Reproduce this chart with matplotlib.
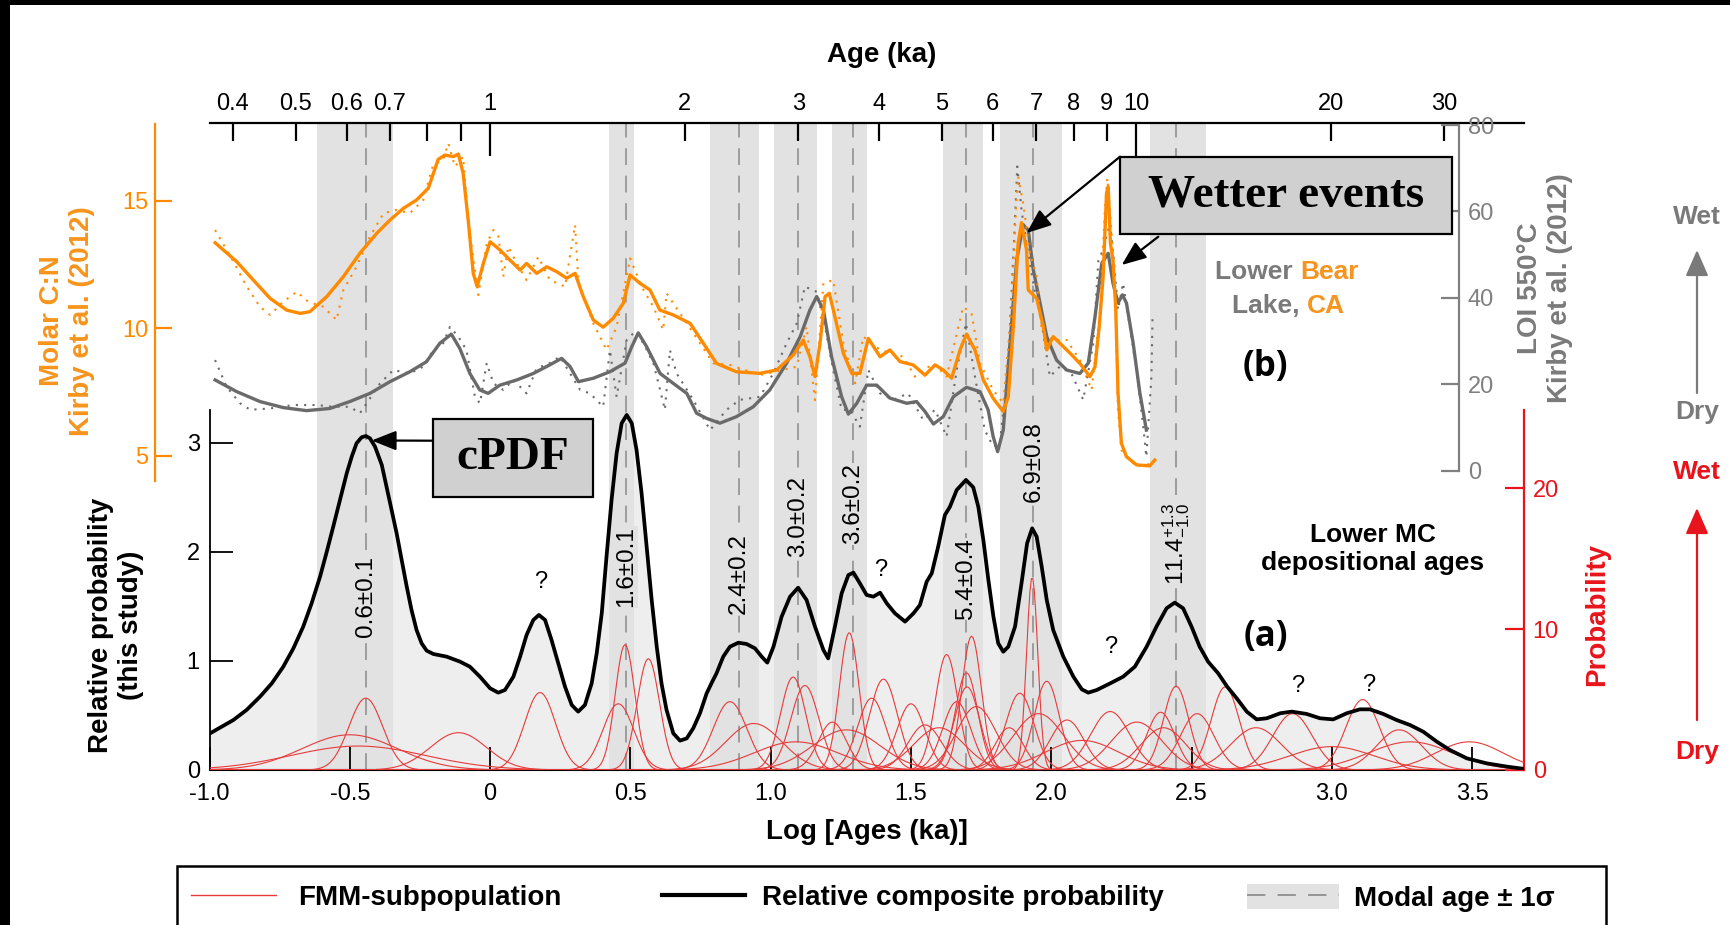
import numpy as np
import matplotlib
matplotlib.use('Agg')
import matplotlib.pyplot as plt
from matplotlib.patches import Rectangle, Patch, FancyArrowPatch
from matplotlib.lines import Line2D

# ---------------- data (x in ln of age in ka) ----------------
cpdf_x = [-0.998, -0.915, -0.868, -0.82, -0.778, -0.737, -0.701, -0.666, -0.636, -0.606, -0.582, -0.559,
          -0.535, -0.511, -0.493, -0.476, -0.458, -0.443, -0.428, -0.41, -0.386, -0.369, -0.351, -0.333,
          -0.315, -0.297, -0.28, -0.262, -0.244, -0.226, -0.202, -0.155, -0.107, -0.072, -0.036, 0.0,
          0.029, 0.053, 0.083, 0.107, 0.13, 0.154, 0.174, 0.196, 0.219, 0.243, 0.267, 0.291, 0.314,
          0.338, 0.362, 0.38, 0.398, 0.415, 0.433, 0.451, 0.469, 0.487, 0.505, 0.522, 0.54, 0.558,
          0.576, 0.594, 0.611, 0.629, 0.653, 0.677, 0.701, 0.724, 0.748, 0.772, 0.79, 0.807, 0.831,
          0.855, 0.885, 0.914, 0.944, 0.968, 0.988, 1.01, 1.039, 1.069, 1.098, 1.128, 1.158, 1.188,
          1.205, 1.229, 1.253, 1.277, 1.295, 1.318, 1.342, 1.366, 1.39, 1.414, 1.443, 1.479, 1.509,
          1.532, 1.556, 1.574, 1.597, 1.621, 1.639, 1.663, 1.696, 1.722, 1.74, 1.758, 1.776, 1.794,
          1.811, 1.829, 1.847, 1.871, 1.894, 1.914, 1.932, 1.948, 1.966, 1.984, 2.007, 2.043, 2.079,
          2.109, 2.132, 2.162, 2.21, 2.256, 2.298, 2.34, 2.375, 2.411, 2.44, 2.47, 2.5, 2.529, 2.559,
          2.595, 2.627, 2.661, 2.697, 2.732, 2.768, 2.816, 2.857, 2.91, 2.958, 3.005, 3.053, 3.1,
          3.136, 3.183, 3.231, 3.279, 3.326, 3.374, 3.421, 3.481, 3.552, 3.624, 3.686]
cpdf_y = [0.336, 0.458, 0.55, 0.672, 0.794, 0.947, 1.115, 1.314, 1.528, 1.772, 2.001, 2.23,
          2.475, 2.719, 2.872, 2.994, 3.049, 3.061, 3.04, 2.963, 2.796, 2.597, 2.383, 2.169,
          1.925, 1.68, 1.467, 1.283, 1.161, 1.094, 1.063, 1.039, 0.993, 0.947, 0.855, 0.749,
          0.709, 0.733, 0.855, 1.039, 1.237, 1.375, 1.421, 1.375, 1.192, 0.978, 0.764, 0.596, 0.535,
          0.596, 0.794, 1.069, 1.436, 1.955, 2.475, 2.903, 3.178, 3.254, 3.178, 2.933, 2.536, 2.047,
          1.558, 1.13, 0.794, 0.55, 0.336, 0.269, 0.29, 0.382, 0.52, 0.703, 0.8, 0.886, 1.039,
          1.13, 1.167, 1.155, 1.115, 1.039, 0.984, 1.13, 1.405, 1.588, 1.671, 1.558, 1.314, 1.1,
          1.023, 1.314, 1.619, 1.787, 1.809, 1.711, 1.604, 1.589, 1.625, 1.527, 1.436, 1.36, 1.436,
          1.512, 1.726, 1.802, 2.047, 2.337, 2.413, 2.566, 2.658, 2.591, 2.413, 2.108, 1.741, 1.405,
          1.161, 1.084, 1.13, 1.314, 1.711, 2.078, 2.215, 2.139, 1.864, 1.558, 1.283, 1.039, 0.855,
          0.739, 0.709, 0.733, 0.794, 0.855, 0.947, 1.13, 1.314, 1.482, 1.534, 1.482, 1.314, 1.13, 0.993,
          0.886, 0.764, 0.657, 0.535, 0.464, 0.474, 0.52, 0.535, 0.514, 0.474, 0.464, 0.52, 0.556,
          0.556, 0.514, 0.458, 0.412, 0.351, 0.26, 0.183, 0.107, 0.061, 0.031, 0.01]

# FMM subpopulations: centre, peak probability, sigma
fmm_mu = [-0.443, -0.50, -0.47, -0.113, 0.178, 0.457, 0.481, 0.564, 0.855, 0.94, 1.08, 1.122,
          1.09, 1.22, 1.27, 1.28, 1.36, 1.402, 1.50, 1.55, 1.60, 1.627, 1.663, 1.698, 1.70, 1.716,
          1.733, 1.85, 1.888, 1.932, 1.955, 1.984, 2.056, 2.11, 2.21, 2.305, 2.39, 2.40, 2.445,
          2.52, 2.62, 2.73, 2.86, 3.0, 3.11, 3.24, 3.28, 3.49]
fmm_h = [5.1, 2.5, 1.7, 2.65, 5.5, 4.7, 8.9, 7.9, 4.85, 3.3, 6.6, 6.0,
         2.0, 3.4, 2.85, 9.75, 5.1, 6.45, 4.7, 3.2, 3.0, 8.2, 4.85, 6.9, 5.9, 9.5,
         4.5, 3.0, 5.45, 13.7, 4.0, 6.3, 3.55, 2.1, 4.15, 3.4, 4.1, 3.0, 5.95,
         4.0, 5.9, 3.0, 4.0, 1.66, 5.0, 2.85, 2.0, 2.0]
fmm_sd = [0.06, 0.17, 0.24, 0.10, 0.055, 0.055, 0.035, 0.04, 0.06, 0.10, 0.045, 0.05,
          0.15, 0.05, 0.12, 0.035, 0.05, 0.05, 0.05, 0.06, 0.09, 0.04, 0.05, 0.04, 0.045, 0.035,
          0.07, 0.05, 0.05, 0.02, 0.09, 0.045, 0.06, 0.13, 0.07, 0.09, 0.05, 0.08, 0.045,
          0.06, 0.05, 0.09, 0.07, 0.15, 0.06, 0.08, 0.15, 0.12]

modal_x = [-0.443, 0.484, 0.887, 1.098, 1.292, 1.696, 1.936, 2.444]
modal_lab = ['0.6±0.1', '1.6±0.1', '2.4±0.2', '3.0±0.2', '3.6±0.2', '5.4±0.4', '6.9±0.8',
             r'$\mathregular{11.4^{+1.3}_{-1.0}}$']
modal_lab_y = [1.59, 1.86, 1.80, 2.32, 2.44, 1.75, 2.83, 2.07]
band_lo = [-0.618, 0.425, 0.784, 1.013, 1.217, 1.613, 1.817, 2.352]
band_hi = [-0.347, 0.514, 0.959, 1.164, 1.342, 1.758, 2.037, 2.551]
q_x = [0.18, 1.393, 2.21, 2.877, 3.133]
q_y = [1.72, 1.83, 1.13, 0.77, 0.78]

# Lower Bear Lake (Kirby et al. 2012)
cn_x = [-0.98, -0.903, -0.844, -0.784, -0.725, -0.677, -0.642, -0.582, -0.523, -0.464, -0.404, -0.357,
        -0.309, -0.262, -0.22, -0.185, -0.161, -0.131, -0.113, -0.096, -0.078, -0.06, -0.046, -0.024,
        0.0, 0.035, 0.071, 0.107, 0.13, 0.166, 0.202, 0.237, 0.273, 0.303, 0.332, 0.368, 0.403, 0.439,
        0.475, 0.499, 0.534, 0.57, 0.605, 0.653, 0.713, 0.76, 0.807, 0.878, 0.962, 1.021, 1.081, 1.116,
        1.14, 1.158, 1.176, 1.194, 1.209, 1.229, 1.259, 1.289, 1.318, 1.348, 1.39, 1.425, 1.461, 1.508,
        1.55, 1.586, 1.615, 1.645, 1.675, 1.698, 1.728, 1.758, 1.793, 1.829, 1.847, 1.865, 1.882, 1.894,
        1.912, 1.918, 1.948, 1.972, 1.984, 2.007, 2.031, 2.067, 2.102, 2.138, 2.156, 2.171, 2.185, 2.197,
        2.203, 2.211, 2.22, 2.23, 2.238, 2.25, 2.268, 2.304, 2.351, 2.369]
cn_y = [13.35, 12.61, 11.89, 11.17, 10.71, 10.58, 10.65, 11.24, 12.02, 12.94, 13.72, 14.24,
        14.70, 15.03, 15.49, 16.62, 16.79, 16.73, 16.83, 16.07, 14.24, 12.15, 11.63, 12.54,
        13.39, 13.07, 12.67, 12.28, 12.54, 12.15, 12.41, 12.22, 11.96, 12.15, 11.24, 10.32, 10.04, 10.39,
        10.98, 12.09, 11.76, 11.5, 10.71, 10.52, 10.19, 9.41, 8.62, 8.29, 8.23, 8.36, 8.95, 9.54,
        8.88, 8.10, 9.41, 11.24, 11.37, 10.45, 9.02, 8.23, 8.23, 9.60, 8.88, 9.15, 8.69, 8.56,
        8.16, 8.56, 8.36, 8.04, 9.15, 9.77, 9.15, 7.97, 7.25, 6.73, 7.31, 10.06, 13.33, 14.14,
        13.07, 11.5, 11.17, 10.06, 9.15, 9.67, 9.41, 9.02, 8.62, 8.10, 8.49, 10.06, 12.02, 15.29,
        15.55, 13.33, 12.67, 10.71, 7.45, 5.49, 4.96, 4.64, 4.60, 4.83]
cn_raw_x = [-0.98, -0.915, -0.867, -0.82, -0.784, -0.737, -0.689, -0.648, -0.594, -0.547, -0.523, -0.476,
            -0.428, -0.38, -0.333, -0.286, -0.238, -0.203, -0.167, -0.149, -0.125, -0.096, -0.078, -0.042,
            -0.012, 0.012, 0.03, 0.047, 0.065, 0.095, 0.13, 0.172, 0.213, 0.267, 0.303, 0.315, 0.368, 0.415,
            0.451, 0.499, 0.54, 0.582, 0.617, 0.629, 0.701, 0.796, 0.855, 0.962, 1.093, 1.128, 1.158, 1.188,
            1.223, 1.259, 1.301, 1.33, 1.39, 1.473, 1.514, 1.58, 1.627, 1.686, 1.716, 1.746, 1.793, 1.829,
            1.858, 1.874, 1.882, 1.9, 1.924, 1.948, 1.966, 2.001, 2.055, 2.102, 2.144, 2.174, 2.191, 2.2,
            2.215, 2.227, 2.238, 2.25, 2.304, 2.363]
cn_raw_y = [13.85, 12.61, 11.63, 10.84, 10.52, 11.04, 11.43, 11.04, 10.84, 10.32, 11.5, 12.41,
            13.59, 14.51, 14.64, 14.51, 15.03, 16.40, 16.60, 17.25, 16.34, 16.73, 14.24, 11.3,
            13.33, 13.85, 13.59, 12.02, 13.2, 12.54, 11.89, 12.8, 11.89, 11.63, 14.05, 11.76, 10.19, 9.15,
            10.06, 12.74, 11.63, 10.84, 9.93, 11.37, 10.19, 8.62, 8.56, 8.16, 8.49, 10.06, 7.18, 11.76,
            11.89, 9.41, 7.84, 9.67, 9.15, 8.88, 8.1, 8.62, 8.1, 10.84, 10.58, 8.62, 7.58, 7.05,
            10.71, 14.64, 15.95, 14.9, 12.94, 12.02, 9.93, 9.54, 9.54, 8.75, 7.58, 10.71, 14.64, 15.88,
            13.72, 11.76, 6.79, 5.22, 4.57, 4.70]
loi_x = [-0.98, -0.903, -0.82, -0.737, -0.654, -0.571, -0.5, -0.428, -0.357, -0.286, -0.227, -0.179,
         -0.138, -0.108, -0.072, -0.037, -0.007, 0.035, 0.095, 0.154, 0.213, 0.255, 0.285, 0.315,
         0.368, 0.427, 0.481, 0.505, 0.528, 0.558, 0.606, 0.653, 0.701, 0.736, 0.772, 0.819, 0.878,
         0.938, 0.997, 1.057, 1.105, 1.14, 1.164, 1.188, 1.217, 1.253, 1.277, 1.307, 1.342, 1.378,
         1.425, 1.485, 1.52, 1.55, 1.58, 1.615, 1.651, 1.698, 1.746, 1.775, 1.793, 1.809, 1.829, 1.853,
         1.877, 1.9, 1.918, 1.936, 1.96, 1.984, 2.019, 2.055, 2.102, 2.132, 2.156, 2.18, 2.203, 2.22,
         2.238, 2.254, 2.268, 2.292, 2.316, 2.333, 2.339]
loi_y = [21.0, 18.3, 16.0, 14.6, 13.9, 14.4, 16.0, 17.9, 20.6, 22.9, 25.2, 29.5,
         31.6, 28.3, 22.5, 18.7, 17.9, 19.8, 21.0, 22.5, 24.5, 26.0, 24.1, 20.6,
         21.4, 22.9, 24.9, 28.7, 31.9, 28.7, 22.5, 20.2, 17.9, 13.3, 12.1, 11.0, 12.5,
         14.8, 18.7, 24.9, 31.0, 37.2, 40.3, 37.2, 26.4, 17.1, 13.1, 15.6, 19.8, 19.8,
         16.8, 15.6, 16.0, 13.7, 10.8, 12.5, 17.1, 19.3, 18.3, 14.1, 7.9, 4.4, 9.4, 29.5,
         48.8, 56.9, 55.7, 46.5, 38.8, 31.0, 25.6, 23.3, 22.5, 24.9, 35.6, 48.0, 50.3, 43.4,
         38.8, 40.7, 38.8, 29.5, 17.9, 11.7, 9.4]
loi_raw_x = [-0.98, -0.939, -0.891, -0.855, -0.784, -0.701, -0.618, -0.559, -0.5, -0.464, -0.44, -0.392,
             -0.345, -0.286, -0.238, -0.203, -0.167, -0.143, -0.113, -0.084, -0.054, -0.036, -0.012, 0.012,
             0.047, 0.083, 0.13, 0.166, 0.213, 0.249, 0.285, 0.321, 0.356, 0.403, 0.427, 0.451, 0.487,
             0.517, 0.546, 0.582, 0.606, 0.623, 0.641, 0.665, 0.724, 0.784, 0.843, 0.89, 0.962, 1.009,
             1.057, 1.093, 1.122, 1.164, 1.194, 1.223, 1.253, 1.283, 1.318, 1.348, 1.39, 1.437, 1.49,
             1.544, 1.586, 1.627, 1.663, 1.696, 1.728, 1.763, 1.793, 1.817, 1.847, 1.867, 1.879, 1.894,
             1.912, 1.936, 1.966, 1.995, 2.031, 2.072, 2.114, 2.15, 2.168, 2.185, 2.209, 2.223, 2.238,
             2.256, 2.28, 2.304, 2.328, 2.339, 2.357, 2.361]
loi_raw_y = [25.6, 19.4, 15.6, 14.1, 14.4, 15.2, 15.2, 14.8, 14.8, 13.3, 15.6, 20.2,
             23.3, 22.5, 24.1, 27.9, 29.5, 33.3, 31.0, 27.9, 17.1, 15.6, 24.9, 20.2,
             18.7, 21.0, 17.9, 23.7, 24.9, 26.4, 22.5, 18.7, 17.9, 14.8, 27.9, 17.1, 30.3,
             32.2, 29.5, 24.9, 18.7, 14.1, 27.9, 22.5, 16.4, 9.4, 14.1, 16.4, 17.1, 22.5,
             29.5, 34.1, 42.6, 41.4, 33.3, 23.3, 14.1, 14.1, 10.2, 23.3, 17.9, 16.4, 17.9,
             11.7, 14.1, 7.9, 23.3, 34.1, 21.8, 9.4, 5.6, 6.3, 25.6, 52.6, 70.4, 60.3,
             52.6, 43.4, 34.1, 21.8, 24.1, 22.5, 16.4, 29.5, 48.8, 51.1, 57.3, 48.8, 37.2,
             43.4, 33.3, 23.3, 10.2, 3.2, 21.8, 35.6]

log_ticks = [-1.0, -0.5, 0.0, 0.5, 1.0, 1.5, 2.0, 2.5, 3.0, 3.5]
log_ticklabels = ['-1.0', '-0.5', '0', '0.5', '1.0', '1.5', '2.0', '2.5', '3.0', '3.5']
age_major = [1, 10]
age_minor = [0.4, 0.5, 0.6, 0.7, 0.8, 0.9, 2, 3, 4, 5, 6, 7, 8, 9, 20, 30]
age_minor_labels = ['0.4', '0.5', '0.6', '0.7', '', '', '2', '3', '4', '5', '6', '7', '8', '9', '20', '30']

# ---------------- style ----------------
plt.rcParams['font.family'] = ['Liberation Sans', 'DejaVu Sans']
plt.rcParams['mathtext.default'] = 'regular'

ORANGE = '#ff8a00'
ORANGE_TXT = '#f7941d'
GRAY = '#6a6a6a'
GRAY_TXT = '#7a7a7a'
RED = '#e8141b'
FMM_RED = '#e83a3a'
BAND = '#e2e2e2'

W, H = 1730, 925
fig = plt.figure(figsize=(W / 100, H / 100), dpi=100)


def fx(px):
    return px / W


def fy(py):
    return 1 - py / H


X0, X1 = -1.0, 3.686
AX_L, AX_R = 209.5, 1524.3
AX_W = (AX_R - AX_L) / W

# main axes (a): bottom at y=770 px, top axis line at y=123 px
ax = fig.add_axes([fx(AX_L), fy(770), AX_W, (770 - 123.3) / H])
ax.set_xlim(X0, X1)
ax.set_ylim(0, 5.927)
ax.fill_between(cpdf_x, 0, cpdf_y, color='#eeeeee', lw=0, zorder=1)
for lo, hi in zip(band_lo, band_hi):
    ax.axvspan(lo, hi, color=BAND, lw=0, zorder=1.5)
for m in modal_x:
    ax.axvline(m, color='#8a8a8a', lw=1.1, dashes=(11, 7), zorder=2)
for m, lab, yl in zip(modal_x, modal_lab, modal_lab_y):
    ax.text(m, yl, lab, rotation=90, ha='center', va='center', fontsize=17.5, zorder=3,
            bbox=dict(fc=BAND, ec='none', pad=0.5))
for xq, yq in zip(q_x, q_y):
    ax.text(xq, yq, '?', ha='center', va='center', fontsize=17, zorder=3)

ax.spines['top'].set_visible(False)
ax.spines['right'].set_visible(False)
ax.spines['left'].set_bounds(0, 3.3)
ax.spines['left'].set_linewidth(1.3)
ax.spines['bottom'].set_linewidth(1.5)
ax.set_xticks(log_ticks)
ax.set_xticklabels(log_ticklabels)
ax.set_yticks([0, 1, 2, 3])
ax.tick_params(axis='x', direction='in', length=16.5, width=1.3, labelsize=17, pad=9)
ax.tick_params(axis='y', direction='in', length=16.5, width=1.3, labelsize=17, pad=7)

# top age axis
axt = ax.twiny()
axt.set_xlim(X0, X1)
for s in ['left', 'right', 'bottom']:
    axt.spines[s].set_visible(False)
axt.spines['top'].set_linewidth(1.6)
axt.set_xticks(np.log(age_major))
axt.set_xticklabels([str(a) for a in age_major])
axt.set_xticks(np.log(age_minor), minor=True)
axt.set_xticklabels(age_minor_labels, minor=True)
axt.tick_params(axis='x', which='major', direction='in', length=24, width=1.6, labelsize=17, pad=6)
axt.tick_params(axis='x', which='minor', direction='in', length=13, width=1.6, labelsize=17, pad=6)

# red probability axis with FMM subpopulations
axr = ax.twinx()
axr.set_ylim(0, 45.91)
for s in ['left', 'top', 'bottom']:
    axr.spines[s].set_visible(False)
axr.spines['right'].set_bounds(0, 25.56)
axr.spines['right'].set_color(RED)
axr.spines['right'].set_linewidth(1.6)
axr.set_yticks([0, 10, 20])
axr.tick_params(axis='y', direction='in', length=14, width=1.6, colors=RED, labelsize=17, pad=6)
xg = np.linspace(X0, X1, 900)
for mu, h, sd in zip(fmm_mu, fmm_h, fmm_sd):
    axr.plot(xg, h * np.exp(-0.5 * ((xg - mu) / sd) ** 2), color=FMM_RED, lw=0.8, zorder=3)

# black composite curve on top
axk = ax.twinx()
axk.set_ylim(0, 5.927)
axk.axis('off')
axk.plot(cpdf_x, cpdf_y, color='black', lw=2.7, zorder=4, solid_joinstyle='round')

# panel (b): LOI (gray) and C:N (orange)
ax_g = fig.add_axes([fx(AX_L), fy(470.7), AX_W, (470.7 - 125) / H])
ax_g.set_xlim(X0, X1)
ax_g.set_ylim(0, 80)
ax_g.patch.set_visible(False)
ax_g.xaxis.set_visible(False)
for s in ['top', 'left', 'bottom']:
    ax_g.spines[s].set_visible(False)
ax_g.spines['right'].set_position(('axes', (1459.3 - AX_L) / (AX_R - AX_L)))
ax_g.spines['right'].set_color('#808080')
ax_g.spines['right'].set_linewidth(1.6)
ax_g.yaxis.tick_right()
ax_g.set_yticks([0, 20, 40, 60, 80])
ax_g.tick_params(axis='y', direction='in', length=13, width=1.6, colors='#808080', labelsize=17, pad=6)
ax_g.plot(loi_raw_x, loi_raw_y, color=GRAY, lw=1.5, ls=(0, (1, 3)))
ax_g.plot(loi_x, loi_y, color=GRAY, lw=2.4, solid_joinstyle='round')

ax_o = fig.add_axes([fx(AX_L), fy(481.2), AX_W, (481.2 - 124.2) / H])
ax_o.set_xlim(X0, X1)
ax_o.set_ylim(4, 18)
ax_o.patch.set_visible(False)
ax_o.xaxis.set_visible(False)
for s in ['top', 'right', 'bottom']:
    ax_o.spines[s].set_visible(False)
ax_o.spines['left'].set_position(('axes', (155 - AX_L) / (AX_R - AX_L)))
ax_o.spines['left'].set_color(ORANGE)
ax_o.spines['left'].set_linewidth(1.6)
ax_o.set_yticks([5, 10, 15])
ax_o.tick_params(axis='y', direction='in', length=12, width=1.6, colors=ORANGE, labelsize=17, pad=5)
ax_o.plot(cn_raw_x, cn_raw_y, color=ORANGE, lw=1.5, ls=(0, (1, 3)))
ax_o.plot(cn_x, cn_y, color=ORANGE, lw=2.4, solid_joinstyle='round')

# ---------------- labels ----------------
fig.text(fx(882), fy(55), 'Age (ka)', ha='center', va='center', fontsize=20, weight='bold')
fig.text(fx(867), fy(832), 'Log [Ages (ka)]', ha='center', va='center', fontsize=20, weight='bold')
fig.text(fx(116), fy(625), 'Relative probability\n(this study)', rotation=90, ha='center',
         va='center', fontsize=20, weight='bold', multialignment='center')
fig.text(fx(67), fy(321), 'Molar C:N\nKirby et al. (2012)', rotation=90, ha='center',
         va='center', fontsize=20, weight='bold', color=ORANGE_TXT, multialignment='center')
fig.text(fx(1545), fy(288), 'LOI 550°C\nKirby et al. (2012)', rotation=90, ha='center',
         va='center', fontsize=20, weight='bold', color=GRAY_TXT, multialignment='center')
fig.text(fx(1597), fy(614), 'Probability', rotation=90, ha='center', va='center',
         fontsize=20, weight='bold', color=RED)
fig.text(fx(1373), fy(549), 'Lower MC\ndepositional ages', ha='center', va='center',
         fontsize=19, weight='bold', multialignment='center')
fig.text(fx(1300), fy(272), 'Lower ', ha='right', va='center', fontsize=19, weight='bold', color=GRAY_TXT)
fig.text(fx(1300), fy(272), 'Bear', ha='left', va='center', fontsize=19, weight='bold', color=ORANGE_TXT)
fig.text(fx(1307), fy(306), 'Lake, ', ha='right', va='center', fontsize=19, weight='bold', color=GRAY_TXT)
fig.text(fx(1307), fy(306), 'CA', ha='left', va='center', fontsize=19, weight='bold', color=ORANGE_TXT)
fig.text(fx(1266), fy(637), '(a)', ha='center', va='center', fontsize=25, weight='bold',
         family=['Open Sans', 'DejaVu Sans'])
fig.text(fx(1265), fy(367), '(b)', ha='center', va='center', fontsize=25, weight='bold',
         family=['Open Sans', 'DejaVu Sans'])

# cPDF and Wetter events callouts
fig.add_artist(Rectangle((fx(433.3), fy(497.3)), (592.7 - 433.3) / W, (497.3 - 419) / H,
                         transform=fig.transFigure, fc='#d0d0d0', ec='black', lw=1.6, zorder=5))
fig.text(fx(513), fy(458), 'cPDF', ha='center', va='center', fontsize=34, weight='bold',
         family=['Liberation Serif', 'DejaVu Serif'], zorder=6)
fig.add_artist(Rectangle((fx(1120), fy(234)), (1451.7 - 1120) / W, (234 - 156.7) / H,
                         transform=fig.transFigure, fc='#d0d0d0', ec='black', lw=1.6, zorder=5))
fig.text(fx(1286), fy(195), 'Wetter events', ha='center', va='center', fontsize=34, weight='bold',
         family=['Liberation Serif', 'DejaVu Serif'], zorder=6)

arrow_kw = dict(arrowstyle='-|>,head_length=0.75,head_width=0.3', mutation_scale=20,
                color='black', lw=1.6, shrinkA=0, shrinkB=0)
axk.annotate('', xy=(-0.422, 3.02), xycoords='data', xytext=(fx(433.3), fy(440.7)),
             textcoords='figure fraction', arrowprops=arrow_kw, annotation_clip=False)
ax_g.annotate('', xy=(1.912, 55.0), xycoords='data', xytext=(fx(1120), fy(156.7)),
              textcoords='figure fraction', arrowprops=arrow_kw, annotation_clip=False)
ax_g.annotate('', xy=(2.251, 47.6), xycoords='data', xytext=(fx(1158.3), fy(236.7)),
              textcoords='figure fraction', arrowprops=arrow_kw, annotation_clip=False)

# Wet / Dry indicators
fig.text(fx(1697), fy(217), 'Wet', ha='center', va='center', fontsize=19, weight='bold', color=GRAY_TXT)
fig.text(fx(1697), fy(412), 'Dry', ha='center', va='center', fontsize=19, weight='bold', color=GRAY_TXT)
fig.text(fx(1697), fy(472), 'Wet', ha='center', va='center', fontsize=19, weight='bold', color=RED)
fig.text(fx(1697), fy(752), 'Dry', ha='center', va='center', fontsize=19, weight='bold', color=RED)
side_kw = dict(arrowstyle='-|>,head_length=0.8,head_width=0.35', mutation_scale=20, lw=1.6,
               transform=fig.transFigure, shrinkA=0, shrinkB=0)
fig.add_artist(FancyArrowPatch((fx(1697), fy(393)), (fx(1697), fy(250)), color=GRAY_TXT, **side_kw))
fig.add_artist(FancyArrowPatch((fx(1697), fy(720)), (fx(1697), fy(508)), color=RED, **side_kw))

# ---------------- legend ----------------
leg_font = dict(weight='bold', size=20)
leg_kw = dict(loc='center left', frameon=False, prop=leg_font, borderpad=0, borderaxespad=0)
fig.legend(handles=[Line2D([], [], color=FMM_RED, lw=1.0)], labels=['FMM-subpopulation'],
           bbox_to_anchor=(fx(191), fy(898)), handlelength=3.05, handletextpad=0.8, **leg_kw)
fig.legend(handles=[Line2D([], [], color='black', lw=3.0)], labels=['Relative composite probability'],
           bbox_to_anchor=(fx(662), fy(898)), handlelength=3.0, handletextpad=0.6, **leg_kw)
fig.legend(handles=[(Patch(fc=BAND, ec='none'),
                     Line2D([], [], color='#808080', lw=1.1, dashes=(12, 8)))],
           labels=['Modal age ± 1σ'], bbox_to_anchor=(fx(1247), fy(898)),
           handlelength=3.3, handleheight=1.0, handletextpad=0.55, **leg_kw)
fig.add_artist(Rectangle((fx(177), fy(945)), (1606 - 177) / W, (945 - 866) / H,
                         transform=fig.transFigure, fill=False, ec='black', lw=1.8))

# black frame strips of the original screenshot
fig.add_artist(Rectangle((0, 0), 10 / W, 1, transform=fig.transFigure, fc='black', ec='none', zorder=10))
fig.add_artist(Rectangle((0, fy(5)), 1, 5 / H, transform=fig.transFigure, fc='black', ec='none', zorder=10))

fig.savefig('out.png', dpi=100)
